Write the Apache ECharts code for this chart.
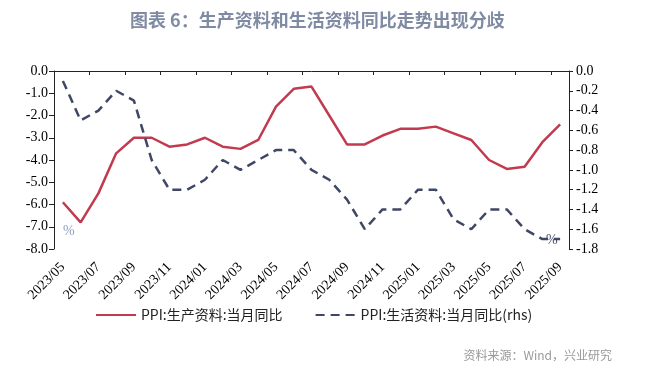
<!DOCTYPE html>
<html>
<head>
<meta charset="utf-8">
<script src="https://cdn.jsdelivr.net/npm/echarts@6/dist/echarts.min.js"></script>
<style>html,body{margin:0;padding:0;background:#fff}#c{width:649px;height:374px}</style>
</head>
<body>
<div id="c"></div>
<script>
const categories = ['2023/05','2023/06','2023/07','2023/08','2023/09','2023/10','2023/11','2023/12',
  '2024/01','2024/02','2024/03','2024/04','2024/05','2024/06','2024/07','2024/08','2024/09','2024/10',
  '2024/11','2024/12','2025/01','2025/02','2025/03','2025/04','2025/05','2025/06','2025/07','2025/08','2025/09'];
const producerGoods = [-5.9,-6.8,-5.5,-3.7,-3.0,-3.0,-3.4,-3.3,-3.0,-3.4,-3.5,-3.1,-1.6,-0.8,-0.7,-2.0,
  -3.3,-3.3,-2.9,-2.6,-2.6,-2.5,-2.8,-3.1,-4.0,-4.4,-4.3,-3.2,-2.4];
const consumerGoods = [-0.1,-0.5,-0.4,-0.2,-0.3,-0.9,-1.2,-1.2,-1.1,-0.9,-1.0,-0.9,-0.8,-0.8,-1.0,-1.1,
  -1.3,-1.6,-1.4,-1.4,-1.2,-1.2,-1.5,-1.6,-1.4,-1.4,-1.6,-1.7,-1.7];
const leftTicks = {min:-8, max:0, interval:1};
const rightTicks = {min:-1.8, max:0, interval:0.2};
const seriesNames = ['PPI:生产资料:当月同比','PPI:生活资料:当月同比(rhs)'];
const titleText = '图表 6：生产资料和生活资料同比走势出现分歧';
const sourceText = '资料来源：Wind，兴业研究';

const serif = 'Liberation Serif';
const cjk = 'Noto Sans CJK SC';
const chart = echarts.init(document.getElementById('c'), null, {renderer:'canvas'});
chart.setOption({
  animation:false,
  title:{text:titleText, left:125, top:6,
    textStyle:{fontFamily:cjk, fontSize:18, fontWeight:'bold', color:'#7f8aa3'}},
  grid:{left:54, right:80, top:71, bottom:125, containLabel:false},
  legend:{left:90, top:303, itemWidth:40, itemHeight:14, itemGap:32,
    itemStyle:{opacity:0},
    textStyle:{fontFamily:cjk, fontSize:14, color:'#222'},
    data:seriesNames},
  xAxis:[{
    type:'category', data:categories, position:'bottom', boundaryGap:true,
    axisLine:{show:false}, axisTick:{show:false},
    axisLabel:{interval:1, rotate:45, margin:16, fontFamily:serif, fontSize:14, color:'#000'}
  },{
    type:'category', data:categories, position:'top', boundaryGap:true,
    axisLine:{show:true, onZero:false, lineStyle:{color:'#222', width:1}},
    axisTick:{show:true, inside:true, interval:1, length:4, lineStyle:{color:'#222'}},
    axisLabel:{show:false}
  }],
  yAxis:[{
    type:'value', min:leftTicks.min, max:leftTicks.max, interval:leftTicks.interval, position:'left',
    axisLine:{show:true, lineStyle:{color:'#222'}},
    axisTick:{show:true, length:5, lineStyle:{color:'#222'}},
    splitLine:{show:false},
    axisLabel:{margin:6, fontFamily:serif, fontSize:14, color:'#000', formatter:v=>v.toFixed(1)}
  },{
    type:'value', min:rightTicks.min, max:rightTicks.max, interval:rightTicks.interval, position:'right',
    axisLine:{show:true, lineStyle:{color:'#222'}},
    axisTick:{show:true, length:4, lineStyle:{color:'#222'}},
    splitLine:{show:false},
    axisLabel:{margin:7, fontFamily:serif, fontSize:14, color:'#000', formatter:v=>v.toFixed(1)}
  }],
  series:[{
    name:seriesNames[0], type:'line', xAxisIndex:0, yAxisIndex:0, data:producerGoods,
    symbol:'none', lineStyle:{color:'#c23a4f', width:2.5}, itemStyle:{color:'#c23a4f'}
  },{
    name:seriesNames[1], type:'line', xAxisIndex:0, yAxisIndex:1, data:consumerGoods,
    symbol:'none', lineStyle:{color:'#3f4764', width:2.5, type:[9,6]}, itemStyle:{color:'#3f4764'}
  }],
  graphic:[
    {type:'text', left:63, top:224, style:{text:'%', font:'14px Liberation Serif', fill:'#8ea0c0'}},
    {type:'text', left:546, top:233, style:{text:'%', font:'14px Liberation Serif', fill:'#4a5068'}},
    {type:'text', right:37, top:349, style:{text:sourceText, font:'12px Noto Sans CJK SC', fill:'#999'}}
  ]
});
</script>
</body>
</html>
